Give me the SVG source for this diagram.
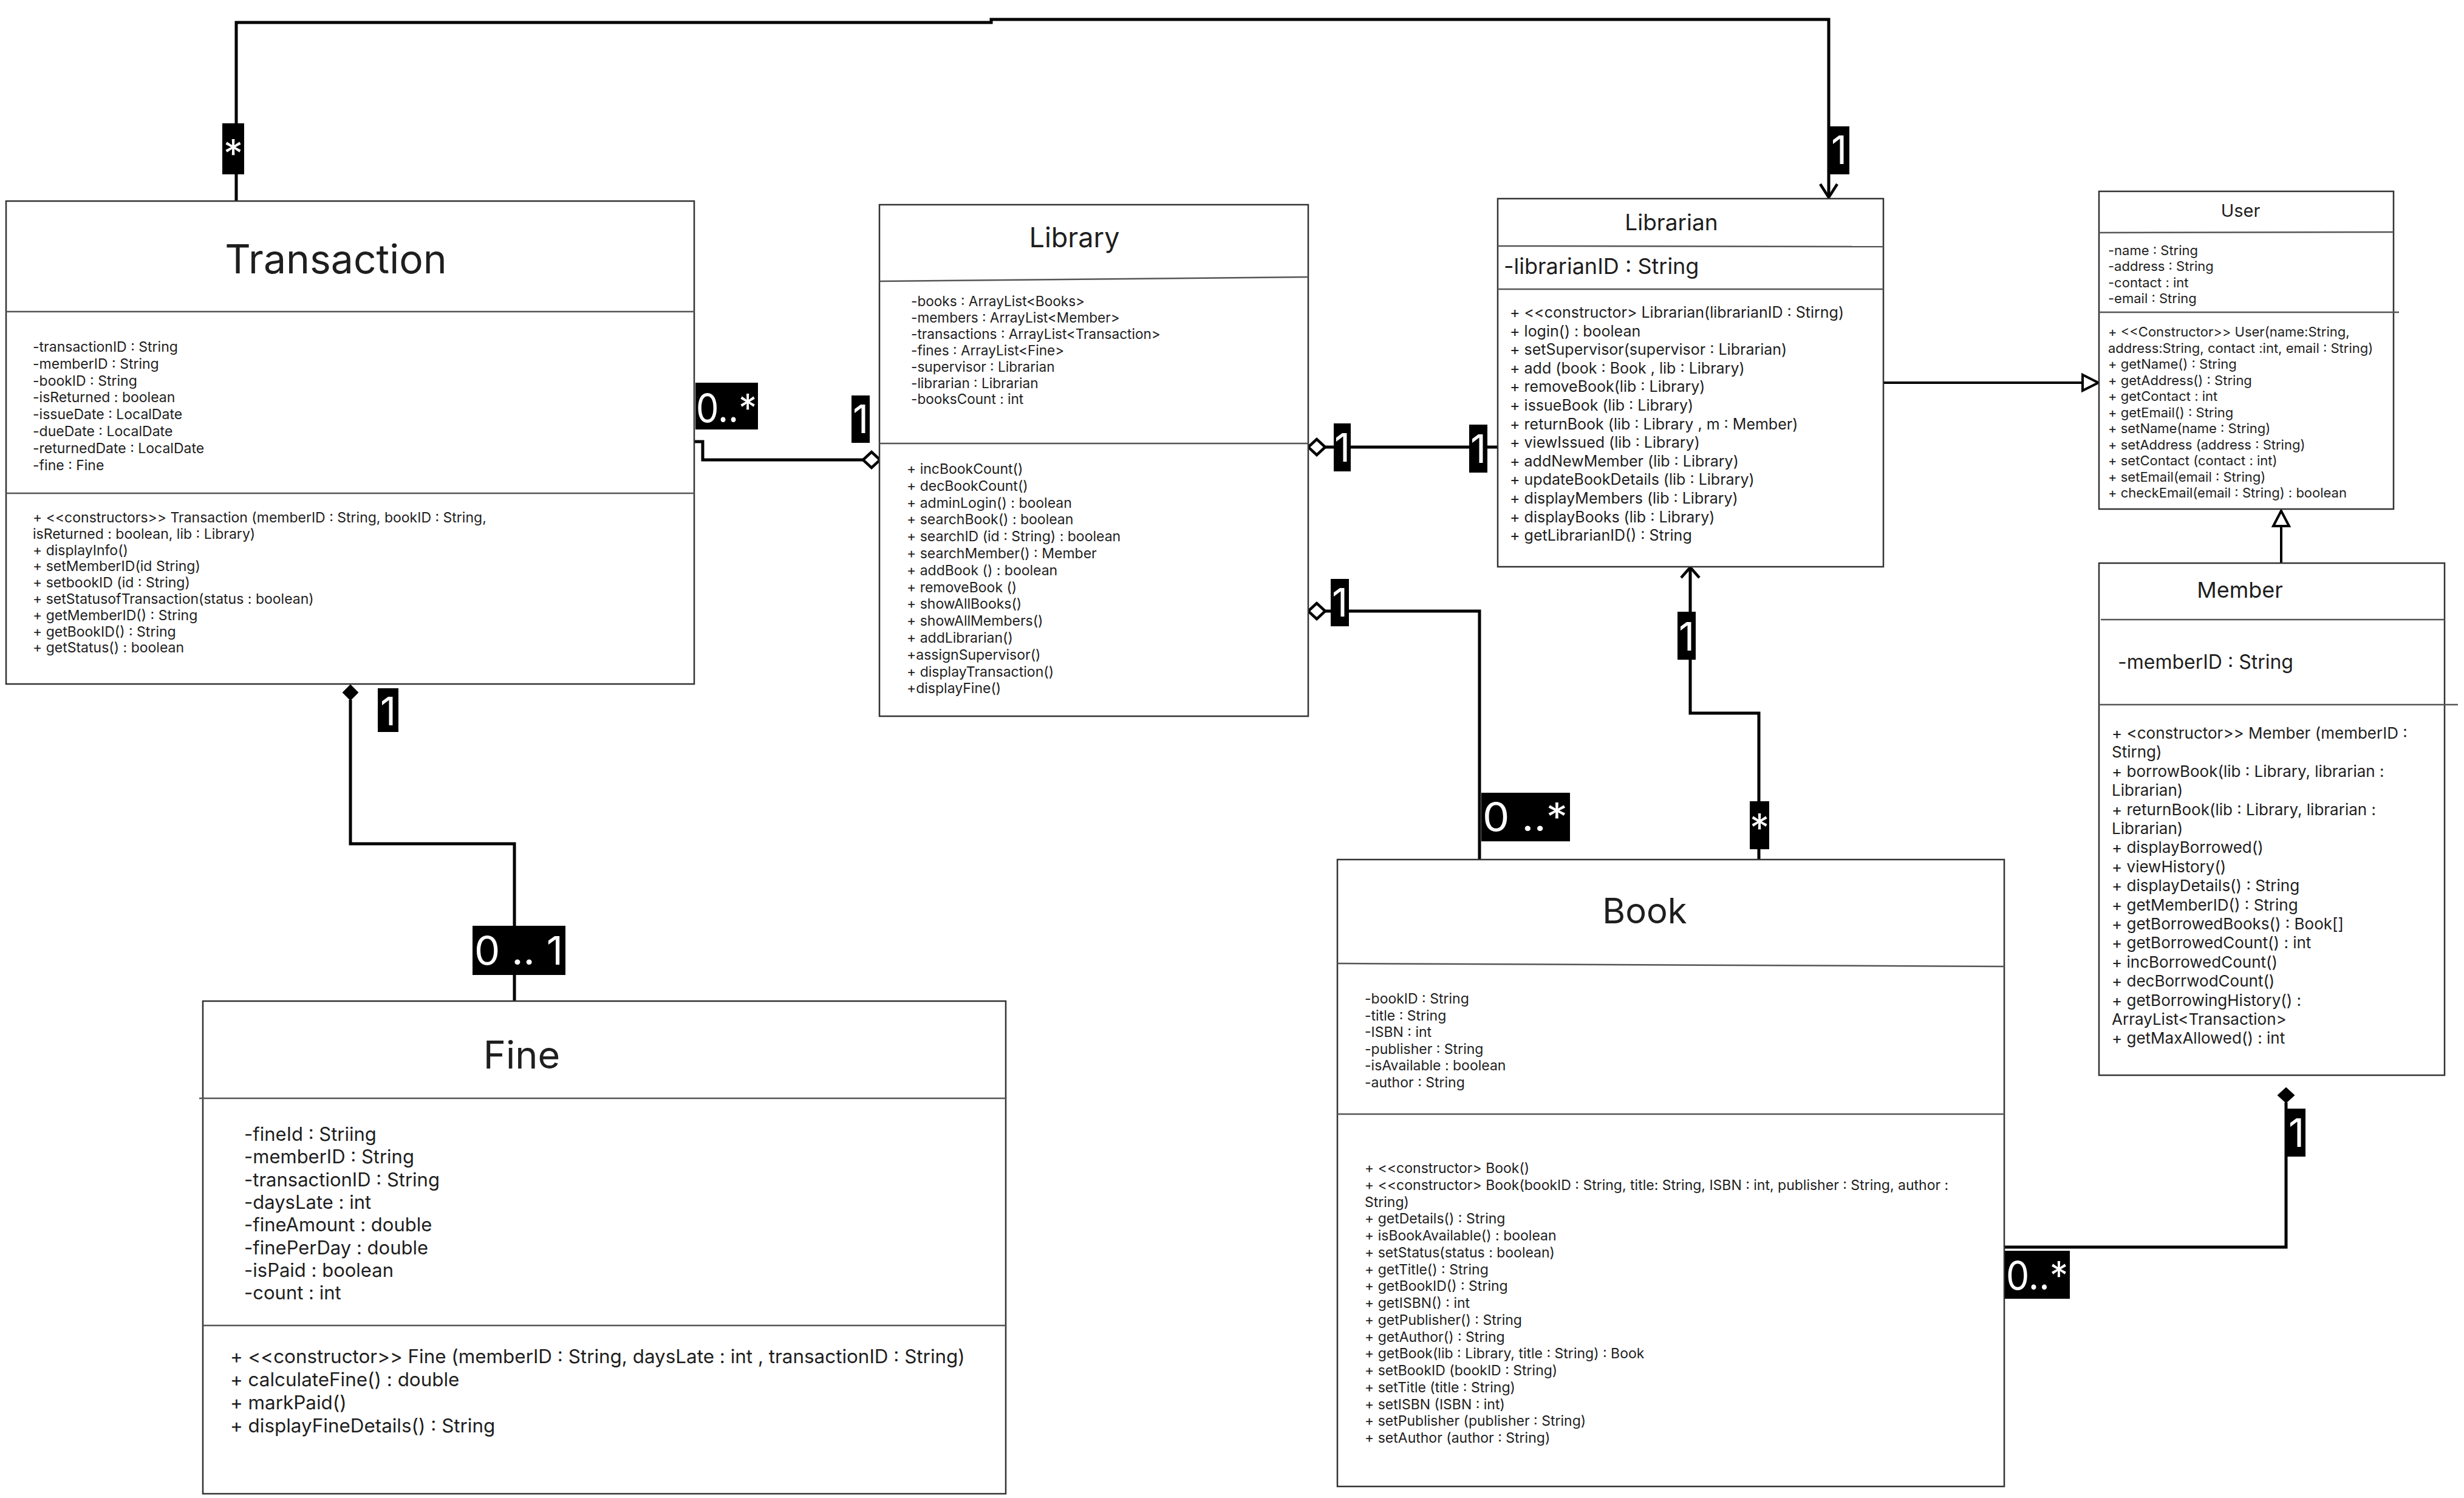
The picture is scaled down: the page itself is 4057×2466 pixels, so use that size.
<svg xmlns="http://www.w3.org/2000/svg" width="4057" height="2466" viewBox="0 0 4057 2466">
<style>
  .box { fill: #ffffff; stroke: #333333; stroke-width: 2.5; }
  .div { stroke: #555555; stroke-width: 2.5; fill: none; }
  text { font-family: Inter, "Liberation Sans", "DejaVu Sans", sans-serif; fill: #1e1e1e; }
  .ttl { text-anchor: middle; }
  .conn { fill: none; stroke: #000000; stroke-width: 5; stroke-linejoin: miter; }
  .gen { fill: none; stroke: #000000; stroke-width: 4; }
  .tri { fill: #ffffff; stroke: #000000; stroke-width: 4; stroke-linejoin: miter; }
  .chev { fill: none; stroke: #000000; stroke-width: 4.5; }
  .dia-o { fill: #ffffff; stroke: #000000; stroke-width: 4.5; }
  .dia-f { fill: #000000; stroke: #000000; stroke-width: 2; }
  .lblbox { fill: #000000; }
  .lbl { fill: #ffffff; font-size: 64px; }
  .lblc { text-anchor: middle; }
  .f23 { font-size: 23px; }
  .f225 { font-size: 22.6px; }
  .f22 { font-size: 22px; }
  .f25 { font-size: 25px; }
  .f26 { font-size: 26px; }
  .f31 { font-size: 31px; }
  .f315 { font-size: 31.4px; }
</style>
<rect x="0" y="0" width="4057" height="2466" fill="#ffffff"/>

<g id="connectors">
  <path class="conn" d="M389,331 V37 H1632 V32 H3011 V323"/>
  <polyline class="chev" points="2997,303 3011,325 3025,303"/>
  <path class="conn" d="M1143,727 H1157 V757 H1421"/>
  <polygon class="dia-o" points="1449,757 1435,744 1421,757 1435,770"/>
  <path class="conn" d="M2181,736 H2466"/>
  <polygon class="dia-o" points="2154,736 2168,723 2182,736 2168,749"/>
  <path class="conn" d="M2182,1006 H2436 V1415"/>
  <polygon class="dia-o" points="2154,1006 2168,993 2182,1006 2168,1019"/>
  <path class="conn" d="M2896,1415 V1174 H2783 V935"/>
  <polyline class="chev" points="2768,951 2783,934 2798,951"/>
  <path class="gen" d="M3101,630 H3429"/>
  <polygon class="tri" points="3455,630 3429,617 3429,643"/>
  <path class="gen" d="M3756,927 V866"/>
  <polygon class="tri" points="3756,841 3743,866 3769,866"/>
  <path class="conn" d="M3764,1815 V2053 H3300"/>
  <polygon class="dia-f" points="3764,1791 3777,1803 3764,1815 3751,1803"/>
  <path class="conn" d="M577,1152 V1389 H847 V1648"/>
  <polygon class="dia-f" points="577,1128 589,1140 577,1152 565,1140"/>

  <rect class="lblbox" x="366" y="203" width="36" height="84"/>
  <text class="lbl lblc" x="384" y="276">*</text>
  <rect class="lblbox" x="3011" y="208" width="34" height="79"/>
  <text class="lbl lblc" x="3028" y="270">1</text>
  <rect class="lblbox" x="1145" y="630" width="103" height="77"/>
  <text class="lbl" x="1146" y="695" textLength="100" lengthAdjust="spacingAndGlyphs">0..*</text>
  <rect class="lblbox" x="1402" y="651" width="30" height="78"/>
  <text class="lbl lblc" x="1417" y="713">1</text>
  <rect class="lblbox" x="2196" y="697" width="28" height="79"/>
  <text class="lbl lblc" x="2210" y="760">1</text>
  <rect class="lblbox" x="2419" y="699" width="30" height="79"/>
  <text class="lbl lblc" x="2434" y="762">1</text>
  <rect class="lblbox" x="2191" y="953" width="30" height="78"/>
  <text class="lbl lblc" x="2206" y="1015">1</text>
  <rect class="lblbox" x="2439" y="1305" width="146" height="80"/>
  <text class="lbl" x="2441" y="1368" textLength="140" lengthAdjust="spacingAndGlyphs">0 ..*</text>
  <rect class="lblbox" x="2762" y="1007" width="30" height="79"/>
  <text class="lbl lblc" x="2777" y="1071">1</text>
  <rect class="lblbox" x="2881" y="1319" width="32" height="79"/>
  <text class="lbl lblc" x="2897" y="1386">*</text>
  <rect class="lblbox" x="3766" y="1825" width="30" height="79"/>
  <text class="lbl lblc" x="3781" y="1888">1</text>
  <rect class="lblbox" x="3300" y="2059" width="108" height="79"/>
  <text class="lbl" x="3303" y="2123" textLength="102" lengthAdjust="spacingAndGlyphs">0..*</text>
  <rect class="lblbox" x="622" y="1133" width="34" height="72"/>
  <text class="lbl lblc" x="639" y="1194">1</text>
  <rect class="lblbox" x="778" y="1524" width="153" height="81"/>
  <text class="lbl" x="781" y="1588" textLength="146" lengthAdjust="spacingAndGlyphs">0 .. 1</text>
</g>

<g id="transaction">
  <rect class="box" x="10" y="331" width="1133" height="795"/>
  <line class="div" x1="10" y1="513" x2="1143" y2="513"/>
  <line class="div" x1="10" y1="812" x2="1143" y2="812"/>
  <text class="ttl" x="553" y="450" font-size="66">Transaction</text>
  <text class="f23" x="54" y="579">
    <tspan x="54">-transactionID : String</tspan>
    <tspan x="54" dy="27.8">-memberID : String</tspan>
    <tspan x="54" dy="27.8">-bookID : String</tspan>
    <tspan x="54" dy="27.8">-isReturned : boolean</tspan>
    <tspan x="54" dy="27.8">-issueDate : LocalDate</tspan>
    <tspan x="54" dy="27.8">-dueDate : LocalDate</tspan>
    <tspan x="54" dy="27.8">-returnedDate : LocalDate</tspan>
    <tspan x="54" dy="27.8">-fine : Fine</tspan>
  </text>
  <text class="f23" x="54" y="860">
    <tspan x="54">+ &lt;&lt;constructors&gt;&gt; Transaction (memberID : String, bookID : String,</tspan>
    <tspan x="54" dy="26.8">isReturned : boolean, lib : Library)</tspan>
    <tspan x="54" dy="26.8">+ displayInfo()</tspan>
    <tspan x="54" dy="26.8">+ setMemberID(id String)</tspan>
    <tspan x="54" dy="26.8">+ setbookID (id : String)</tspan>
    <tspan x="54" dy="26.8">+ setStatusofTransaction(status : boolean)</tspan>
    <tspan x="54" dy="26.8">+ getMemberID() : String</tspan>
    <tspan x="54" dy="26.8">+ getBookID() : String</tspan>
    <tspan x="54" dy="26.8">+ getStatus() : boolean</tspan>
  </text>
</g>

<g id="library">
  <rect class="box" x="1448" y="337" width="706" height="842"/>
  <line class="div" x1="1448" y1="463" x2="2154" y2="456"/>
  <line class="div" x1="1448" y1="730" x2="2154" y2="730"/>
  <text class="ttl" x="1769" y="407" font-size="45">Library</text>
  <text class="f225" x="1500" y="504">
    <tspan x="1500">-books : ArrayList&lt;Books&gt;</tspan>
    <tspan x="1500" dy="26.9">-members : ArrayList&lt;Member&gt;</tspan>
    <tspan x="1500" dy="26.9">-transactions : ArrayList&lt;Transaction&gt;</tspan>
    <tspan x="1500" dy="26.9">-fines : ArrayList&lt;Fine&gt;</tspan>
    <tspan x="1500" dy="26.9">-supervisor : Librarian</tspan>
    <tspan x="1500" dy="26.9">-librarian : Librarian</tspan>
    <tspan x="1500" dy="26.9">-booksCount : int</tspan>
  </text>
  <text class="f23" x="1493" y="780">
    <tspan x="1493">+ incBookCount()</tspan>
    <tspan x="1493" dy="27.8">+ decBookCount()</tspan>
    <tspan x="1493" dy="27.8">+ adminLogin() : boolean</tspan>
    <tspan x="1493" dy="27.8">+ searchBook() : boolean</tspan>
    <tspan x="1493" dy="27.8">+ searchID (id : String) : boolean</tspan>
    <tspan x="1493" dy="27.8">+ searchMember() : Member</tspan>
    <tspan x="1493" dy="27.8">+ addBook () : boolean</tspan>
    <tspan x="1493" dy="27.8">+ removeBook ()</tspan>
    <tspan x="1493" dy="27.8">+ showAllBooks()</tspan>
    <tspan x="1493" dy="27.8">+ showAllMembers()</tspan>
    <tspan x="1493" dy="27.8">+ addLibrarian()</tspan>
    <tspan x="1493" dy="27.8">+assignSupervisor()</tspan>
    <tspan x="1493" dy="27.8">+ displayTransaction()</tspan>
    <tspan x="1493" dy="27.8">+displayFine()</tspan>
  </text>
</g>

<g id="librarian">
  <rect class="box" x="2466" y="327" width="635" height="606"/>
  <line class="div" x1="2466" y1="405" x2="3101" y2="406"/>
  <line class="div" x1="2466" y1="476" x2="3101" y2="476"/>
  <text class="ttl" x="2752" y="379" font-size="37">Librarian</text>
  <text x="2476" y="451" font-size="36">-librarianID : String</text>
  <text class="f25" x="2486" y="523">
    <tspan x="2486">+ &lt;&lt;constructor&gt; Librarian(librarianID : Stirng)</tspan>
    <tspan x="2486" dy="30.6">+ login() : boolean</tspan>
    <tspan x="2486" dy="30.6">+ setSupervisor(supervisor : Librarian)</tspan>
    <tspan x="2486" dy="30.6">+ add (book : Book , lib : Library)</tspan>
    <tspan x="2486" dy="30.6">+ removeBook(lib : Library)</tspan>
    <tspan x="2486" dy="30.6">+ issueBook (lib : Library)</tspan>
    <tspan x="2486" dy="30.6">+ returnBook (lib : Library , m : Member)</tspan>
    <tspan x="2486" dy="30.6">+ viewIssued (lib : Library)</tspan>
    <tspan x="2486" dy="30.6">+ addNewMember (lib : Library)</tspan>
    <tspan x="2486" dy="30.6">+ updateBookDetails (lib : Library)</tspan>
    <tspan x="2486" dy="30.6">+ displayMembers (lib : Library)</tspan>
    <tspan x="2486" dy="30.6">+ displayBooks (lib : Library)</tspan>
    <tspan x="2486" dy="30.6">+ getLibrarianID() : String</tspan>
  </text>
</g>

<g id="user">
  <rect class="box" x="3456" y="315" width="485" height="523"/>
  <line class="div" x1="3456" y1="383" x2="3941" y2="382"/>
  <line class="div" x1="3456" y1="514" x2="3950" y2="514"/>
  <text class="ttl" x="3689" y="357" font-size="29">User</text>
  <text class="f22" x="3471" y="420">
    <tspan x="3471">-name : String</tspan>
    <tspan x="3471" dy="26.4">-address : String</tspan>
    <tspan x="3471" dy="26.4">-contact : int</tspan>
    <tspan x="3471" dy="26.4">-email : String</tspan>
  </text>
  <text class="f22" x="3471" y="554">
    <tspan x="3471">+ &lt;&lt;Constructor&gt;&gt; User(name:String,</tspan>
    <tspan x="3471" dy="26.5">address:String, contact :int, email : String)</tspan>
    <tspan x="3471" dy="26.5">+ getName() : String</tspan>
    <tspan x="3471" dy="26.5">+ getAddress() : String</tspan>
    <tspan x="3471" dy="26.5">+ getContact : int</tspan>
    <tspan x="3471" dy="26.5">+ getEmail() : String</tspan>
    <tspan x="3471" dy="26.5">+ setName(name : String)</tspan>
    <tspan x="3471" dy="26.5">+ setAddress (address : String)</tspan>
    <tspan x="3471" dy="26.5">+ setContact (contact : int)</tspan>
    <tspan x="3471" dy="26.5">+ setEmail(email : String)</tspan>
    <tspan x="3471" dy="26.5">+ checkEmail(email : String) : boolean</tspan>
  </text>
</g>

<g id="member">
  <rect class="box" x="3456" y="927" width="569" height="843"/>
  <line class="div" x1="3459" y1="1020" x2="4025" y2="1020"/>
  <line class="div" x1="3456" y1="1160" x2="4047" y2="1160"/>
  <text class="ttl" x="3688" y="984" font-size="36">Member</text>
  <text x="3487" y="1101" font-size="32">-memberID : String</text>
  <text class="f26" x="3477" y="1216">
    <tspan x="3477">+ &lt;constructor&gt;&gt; Member (memberID :</tspan>
    <tspan x="3477" dy="31.4">Stirng)</tspan>
    <tspan x="3477" dy="31.4">+ borrowBook(lib : Library, librarian :</tspan>
    <tspan x="3477" dy="31.4">Librarian)</tspan>
    <tspan x="3477" dy="31.4">+ returnBook(lib : Library, librarian :</tspan>
    <tspan x="3477" dy="31.4">Librarian)</tspan>
    <tspan x="3477" dy="31.4">+ displayBorrowed()</tspan>
    <tspan x="3477" dy="31.4">+ viewHistory()</tspan>
    <tspan x="3477" dy="31.4">+ displayDetails() : String</tspan>
    <tspan x="3477" dy="31.4">+ getMemberID() : String</tspan>
    <tspan x="3477" dy="31.4">+ getBorrowedBooks() : Book[]</tspan>
    <tspan x="3477" dy="31.4">+ getBorrowedCount() : int</tspan>
    <tspan x="3477" dy="31.4">+ incBorrowedCount()</tspan>
    <tspan x="3477" dy="31.4">+ decBorrwodCount()</tspan>
    <tspan x="3477" dy="31.4">+ getBorrowingHistory() :</tspan>
    <tspan x="3477" dy="31.4">ArrayList&lt;Transaction&gt;</tspan>
    <tspan x="3477" dy="31.4">+ getMaxAllowed() : int</tspan>
  </text>
</g>

<g id="book">
  <rect class="box" x="2202" y="1415" width="1098" height="1032"/>
  <line class="div" x1="2202" y1="1586" x2="3300" y2="1591"/>
  <line class="div" x1="2202" y1="1834" x2="3300" y2="1834"/>
  <text class="ttl" x="2708" y="1520" font-size="58">Book</text>
  <text class="f23" x="2247" y="1652">
    <tspan x="2247">-bookID : String</tspan>
    <tspan x="2247" dy="27.6">-title : String</tspan>
    <tspan x="2247" dy="27.6">-ISBN : int</tspan>
    <tspan x="2247" dy="27.6">-publisher : String</tspan>
    <tspan x="2247" dy="27.6">-isAvailable : boolean</tspan>
    <tspan x="2247" dy="27.6">-author : String</tspan>
  </text>
  <text class="f23" x="2247" y="1931">
    <tspan x="2247">+ &lt;&lt;constructor&gt; Book()</tspan>
    <tspan x="2247" dy="27.75">+ &lt;&lt;constructor&gt; Book(bookID : String, title: String, ISBN : int, publisher : String, author :</tspan>
    <tspan x="2247" dy="27.75">String)</tspan>
    <tspan x="2247" dy="27.75">+ getDetails() : String</tspan>
    <tspan x="2247" dy="27.75">+ isBookAvailable() : boolean</tspan>
    <tspan x="2247" dy="27.75">+ setStatus(status : boolean)</tspan>
    <tspan x="2247" dy="27.75">+ getTitle() : String</tspan>
    <tspan x="2247" dy="27.75">+ getBookID() : String</tspan>
    <tspan x="2247" dy="27.75">+ getISBN() : int</tspan>
    <tspan x="2247" dy="27.75">+ getPublisher() : String</tspan>
    <tspan x="2247" dy="27.75">+ getAuthor() : String</tspan>
    <tspan x="2247" dy="27.75">+ getBook(lib : Library, title : String) : Book</tspan>
    <tspan x="2247" dy="27.75">+ setBookID (bookID : String)</tspan>
    <tspan x="2247" dy="27.75">+ setTitle (title : String)</tspan>
    <tspan x="2247" dy="27.75">+ setISBN (ISBN : int)</tspan>
    <tspan x="2247" dy="27.75">+ setPublisher (publisher : String)</tspan>
    <tspan x="2247" dy="27.75">+ setAuthor (author : String)</tspan>
  </text>
</g>

<g id="fine">
  <rect class="box" x="334" y="1648" width="1322" height="811"/>
  <line class="div" x1="328" y1="1808" x2="1656" y2="1808"/>
  <line class="div" x1="334" y1="2182" x2="1656" y2="2182"/>
  <text class="ttl" x="859" y="1759" font-size="63">Fine</text>
  <text class="f31" x="402" y="1878">
    <tspan x="402">-fineId : Striing</tspan>
    <tspan x="402" dy="37.3">-memberID : String</tspan>
    <tspan x="402" dy="37.3">-transactionID : String</tspan>
    <tspan x="402" dy="37.3">-daysLate : int</tspan>
    <tspan x="402" dy="37.3">-fineAmount : double</tspan>
    <tspan x="402" dy="37.3">-finePerDay : double</tspan>
    <tspan x="402" dy="37.3">-isPaid : boolean</tspan>
    <tspan x="402" dy="37.3">-count : int</tspan>
  </text>
  <text class="f315" x="379" y="2244">
    <tspan x="379">+ &lt;&lt;constructor&gt;&gt; Fine (memberID : String, daysLate : int , transactionID : String)</tspan>
    <tspan x="379" dy="38">+ calculateFine() : double</tspan>
    <tspan x="379" dy="38">+ markPaid()</tspan>
    <tspan x="379" dy="38">+ displayFineDetails() : String</tspan>
  </text>
</g>
</svg>
